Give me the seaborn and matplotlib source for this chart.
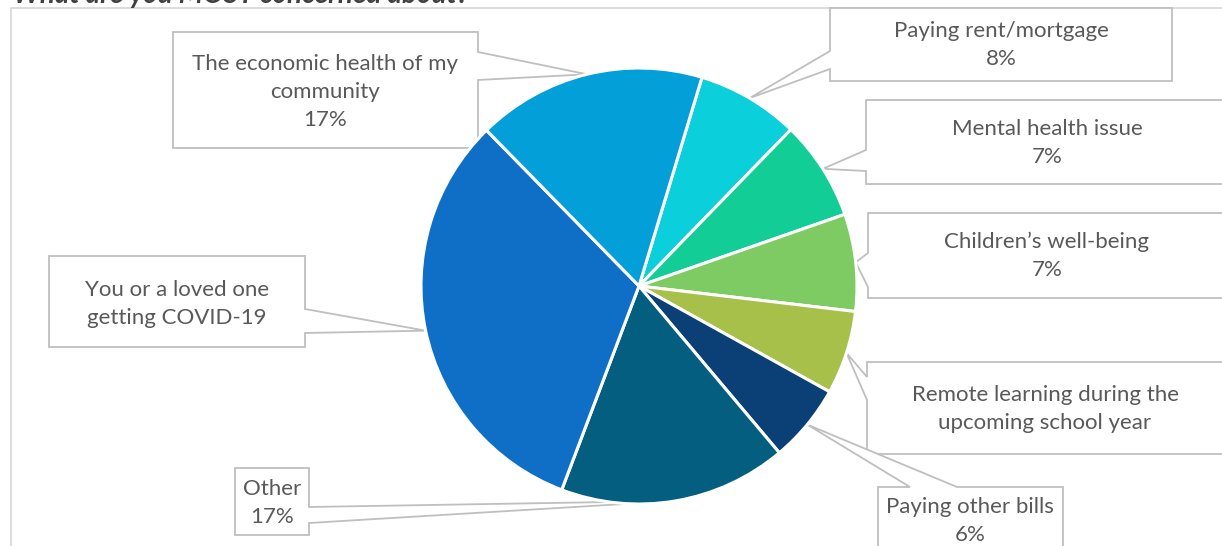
import numpy as np
import matplotlib
matplotlib.use("Agg")
import matplotlib.pyplot as plt
import seaborn as sns
from matplotlib.patches import Polygon

# ---------------- data ----------------
categories = [
    "Paying rent/mortgage",
    "Mental health issue",
    "Children\u2019s well-being",
    "Remote learning during the\nupcoming school year",
    "Paying other bills",
    "Other",
    "You or a loved one\ngetting COVID-19",
    "The economic health of my\ncommunity",
]
values = [7.6, 7.4, 7.2, 6.2, 5.8, 16.9, 31.9, 17.0]
show_pct = [True, True, True, False, True, True, False, True]
colors = ["#0BCFDA", "#12CE96", "#7DCB62", "#A6C04A",
          "#0B4077", "#035E80", "#0F6FC6", "#039FD9"]
title = "What are you MOST concerned about?"

# ---------------- layout (pixel coords, y from top) ----------------
W, H = 1222, 546
center_px = (639, 286)
radius = 218
# box: (left, top, right, bottom), side of pointer, notch start, notch end, text centre
boxes = [
    ((830, 8, 1172, 81), "left", 51, 69, (1001, 45)),
    ((866, 100, 1228, 184), "left", 150, 171, (1047, 143)),
    ((868, 213, 1228, 298), "left", 253, 287, (1047, 256)),
    ((867, 362, 1228, 454), "left", 377, 400, (1045, 409)),
    ((878, 487, 1063, 556), "top", 910, 957, (970, 521)),
    ((235, 468, 309, 535), "right", 507, 523, (272, 503)),
    ((49, 256, 305, 347), "right", 309, 333, (177, 304)),
    ((173, 32, 478, 148), "right", 52, 80, (325, 92)),
]

sns.set_theme(style="white")
plt.rcParams["font.family"] = ["Lato", "DejaVu Sans"]

fig = plt.figure(figsize=(W / 100, H / 100), dpi=100)
ax = fig.add_axes([0, 0, 1, 1])

pal = sns.color_palette(colors)
cx, cy = center_px[0], H - center_px[1]
wedges, _ = ax.pie(values, colors=pal, startangle=90 - 16.8, counterclock=False,
                   center=(cx, cy), radius=radius,
                   wedgeprops=dict(edgecolor="white", linewidth=2.2))
ax.set_xlim(0, W)
ax.set_ylim(0, H)
ax.set_aspect("auto")
ax.axis("off")

# chart frame (partially visible)
ax.plot([10.5, 10.5, W + 5], [-5, H - 7.5, H - 7.5], color="#D9D9D9", lw=1.3,
        solid_capstyle="butt", zorder=0)

total = sum(values)
for w, cat, v, sp, (box, side, n1, n2, tc) in zip(wedges, categories, values, show_pct, boxes):
    mid = np.deg2rad((w.theta1 + w.theta2) / 2)
    tip = (cx + radius * np.cos(mid), cy + radius * np.sin(mid))
    L, T, R, B = box
    T, B = H - T, H - B
    if side == "left":
        pts = [(L, T), (R, T), (R, B), (L, B), (L, H - n2), tip, (L, H - n1)]
    elif side == "right":
        pts = [(L, T), (R, T), (R, H - n1), tip, (R, H - n2), (R, B), (L, B)]
    else:
        pts = [(L, T), (n1, T), tip, (n2, T), (R, T), (R, B), (L, B)]
    ax.add_patch(Polygon(pts, closed=True, facecolor="white", edgecolor="#BFBFBF",
                         lw=1.3, zorder=0.5, joinstyle="miter"))
    label = cat
    if sp:
        label += f"\n{round(100 * v / total):d}%"
    ax.text(tc[0], H - tc[1], label, ha="center", va="center", fontsize=16,
            color="#595959", linespacing=1.5, zorder=3)

fig.text(13 / W, (H - 3.5) / H, title, ha="left", va="baseline", fontsize=20,
         fontweight="bold", fontstyle="italic", color="#404040")

fig.savefig("out.png", dpi=100)
